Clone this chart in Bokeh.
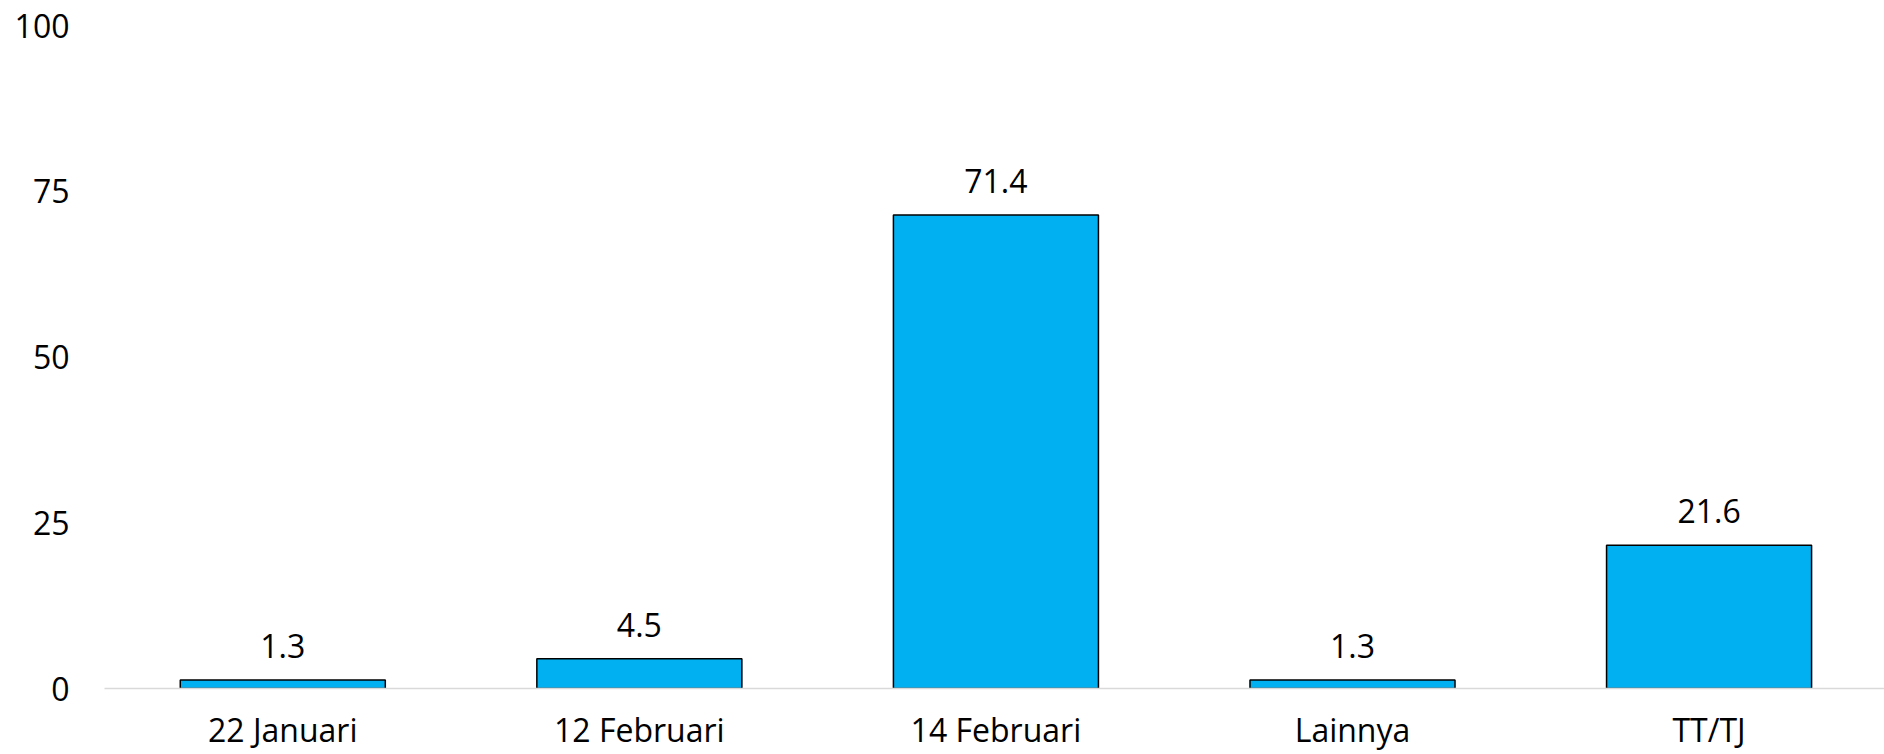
from bokeh.plotting import figure
from bokeh.models import ColumnDataSource, Range1d, FixedTicker, LabelSet
from bokeh.core.properties import value
from bokeh.embed import file_html
from bokeh.resources import INLINE

categories = ["22 Januari", "12 Februari", "14 Februari", "Lainnya", "TT/TJ"]
values = [1.3, 4.5, 71.4, 1.3, 21.6]
value_labels = ["1.3", "4.5", "71.4", "1.3", "21.6"]
y_ticks = [0, 25, 50, 75, 100]

FONT = "Open Sans"
FS = "32px"

xs = [i + 0.5 for i in range(len(categories))]
src = ColumnDataSource(dict(x=xs, top=values, lab=value_labels))

p = figure(width=1884, height=754, output_backend="svg", toolbar_location=None,
           x_range=Range1d(0, 4.992), y_range=Range1d(0, 100),
           min_border_left=104, min_border_right=0, min_border_top=25, min_border_bottom=66)
p.outline_line_color = None
p.xgrid.grid_line_color = None
p.ygrid.grid_line_color = None

p.vbar(x="x", top="top", bottom=0, width=0.575, source=src,
       fill_color="#00B0F0", line_color="#000000", line_width=1.5)

labels = LabelSet(x="x", y="top", text="lab", source=src, y_offset=22,
                  text_align="center", text_baseline="alphabetic",
                  text_font=value(FONT), text_font_size=value(FS), text_color="#000000")
p.add_layout(labels)

# x axis
p.xaxis.ticker = FixedTicker(ticks=xs)
p.xaxis.major_label_overrides = {x: c for x, c in zip(xs, categories)}
p.xaxis.axis_line_color = "#D9D9D9"
p.xaxis.axis_line_width = 1.5
p.xaxis.major_tick_line_color = None
p.xaxis.minor_tick_line_color = None
p.xaxis.major_tick_out = 0
p.xaxis.major_tick_in = 0
p.xaxis.major_label_standoff = 19
p.xaxis.major_label_text_font = FONT
p.xaxis.major_label_text_font_size = FS
p.xaxis.major_label_text_color = "#000000"

# y axis
p.yaxis.ticker = FixedTicker(ticks=y_ticks)
p.yaxis.axis_line_color = None
p.yaxis.major_tick_line_color = None
p.yaxis.minor_tick_line_color = None
p.yaxis.major_tick_out = 0
p.yaxis.major_tick_in = 0
p.yaxis.major_label_standoff = 35
p.yaxis.major_label_text_font = FONT
p.yaxis.major_label_text_font_size = FS
p.yaxis.major_label_text_color = "#000000"

open("out.html", "w").write(file_html(p, INLINE))
